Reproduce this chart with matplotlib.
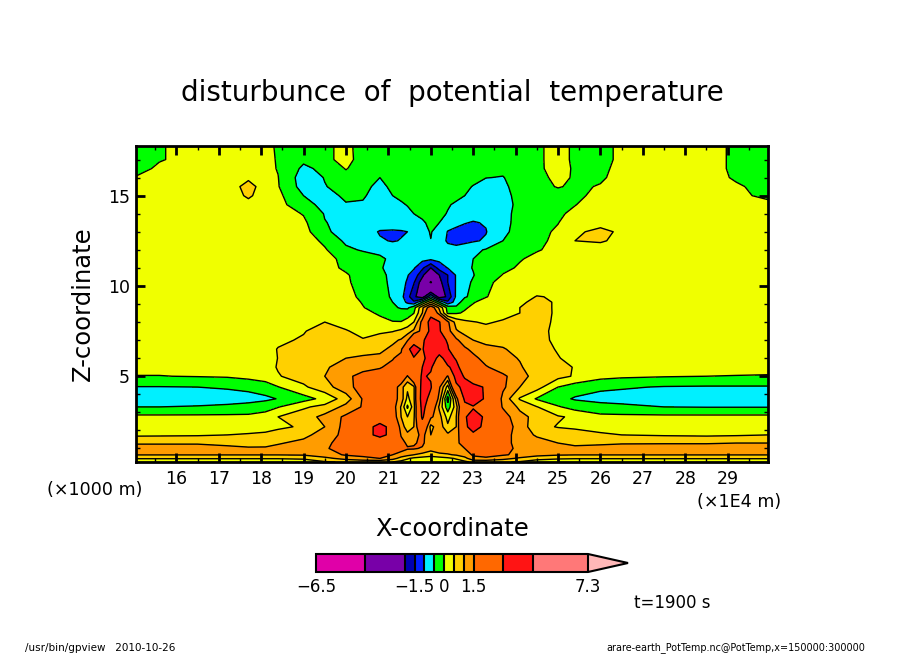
import numpy as np
import matplotlib
matplotlib.use("Agg")
import matplotlib.pyplot as plt
from matplotlib.colors import ListedColormap, BoundaryNorm

W, H = 904, 654

# contour levels and fill colours
levels = [-6.5, -4, -2, -1.5, -1, -0.5, 0, 0.5, 1, 1.5, 3, 4.5, 7.3]
colors = ['#e000a8', '#7800a8', '#0000b0', '#0020ff', '#00f0ff', '#00ff00',
          '#f0ff00', '#ffd000', '#ff9c00', '#ff6800', '#ff1414', '#ff7878']
over_color = '#ffb8b8'
bar_ticks = [-6.5, -1.5, 0, 1.5, 7.3]
bar_labels = ['\u22126.5', '\u22121.5', '0', '1.5', '7.3']

# x in 1E4 m, z in 1000 m
x = [15.05, 15.6, 16.5, 17.2, 17.7, 18.1, 18.4, 19, 19.5, 20, 20.4, 20.8, 21.1, 21.3, 21.45, 21.6, 21.8,
     22, 22.2, 22.4, 22.6, 22.8, 23, 23.3, 23.7, 24.1, 24.5, 25, 25.4, 26, 26.5, 27.5, 28.5, 29.2, 29.95]
z = [0.25, 0.45, 0.65, 1, 1.3, 1.75, 2.2, 2.75, 3.3, 3.75, 4.4, 5, 5.5, 6, 6.5, 7, 7.5, 8, 8.5, 8.8, 9.1, 9.4,
     10.2, 10.6, 11, 11.5, 12, 12.5, 13, 13.5, 14, 14.5, 15, 15.5, 16, 16.5, 17, 17.75]

# disturbance of potential temperature, one row per z
theta = [
 [.3,.3,.3,.3,.3,.3,.3,.32,.45,.55,.6,.6,.5,.35,.3,.25,.22,.2,.22,.25,.3,.4,.6,.6,.55,.45,.35,.3,.3,.3,.3,.3,.3,.3,.3],
 [.52,.52,.52,.52,.52,.52,.52,.55,.85,1.2,1.4,1.5,1.2,.8,.55,.4,.3,.25,.3,.4,.55,.8,1.4,1.45,1.2,.9,.6,.54,.52,.52,.52,.52,.52,.52,.52],
 [1.02,1.02,1.02,1.02,1.02,1.02,1.02,1.05,1.3,1.55,1.6,1.65,1.5,1.3,1.15,1,.85,.7,.85,.95,1.05,1.3,1.55,1.6,1.55,1.4,1.2,1.05,1.02,1.02,1.02,1.02,1.02,1.02,1.02],
 [1.2,1.2,1.2,1.1,1.05,1.05,1.15,1.3,1.45,1.7,1.8,1.95,1.9,1.7,1.55,1.55,1.45,1.2,1.4,1.3,1.35,1.5,1.75,1.85,1.65,1.4,1.3,1.15,1.05,1.1,1.15,1.2,1.2,1.2,1.2],
 [.95,.95,.95,.9,.85,.87,.95,1.15,1.4,1.7,1.8,2.2,2.1,1.7,1.4,1.45,1.6,1.15,1.35,1.3,1.4,1.7,2,2,1.7,1.3,1.15,1,.95,.95,.97,.97,.97,1,1],
 [.42,.43,.45,.5,.55,.6,.65,.85,1.25,1.65,2.55,3.3,2.7,1.45,1.1,1.2,1.7,1,1.4,1.1,1.2,2.2,2.85,2.3,1.8,1.2,.95,.8,.7,.58,.5,.45,.42,.45,.5],
 [.2,.2,.2,.2,.25,.3,.43,.55,1,1.7,2.55,3.3,2.7,1.2,.8,1,2.4,.85,1.3,.6,1,2.85,3.3,2.8,1.8,1.3,.65,.47,.42,.3,.25,.2,.2,.2,.2],
 [.12,.12,.12,.12,.12,.2,.5,.75,1.15,1.6,1.9,2.4,1.9,1,.5,.9,3.2,1.6,1.2,.3,1,2.9,3.4,2.85,1.75,1.15,.85,.55,.42,.12,.12,.12,.12,.12,.12],
 [-.5,-.5,-.47,-.42,-.35,-.2,-.03,.43,.65,1.15,1.55,2.2,1.8,.95,-.1,.8,3.4,2.2,.9,-.3,.8,2.7,2.9,2.4,1.45,.9,.52,.05,-.2,-.3,-.38,-.5,-.52,-.52,-.52],
 [-.7,-.7,-.7,-.68,-.65,-.6,-.48,-.2,.15,.75,1.55,2.1,1.75,1.3,.35,.9,3.6,2.6,1.3,-.7,1.2,3.2,3.8,2.8,1.35,.45,-.05,-.35,-.55,-.68,-.7,-.72,-.72,-.72,-.72],
 [-.52,-.52,-.5,-.46,-.4,-.25,-.02,.42,.8,1.3,1.75,2,1.9,1.2,.6,.9,3.5,3.1,1.6,.3,2.7,3.4,3.3,2.9,1.6,1,.7,0,-.25,-.4,-.45,-.53,-.55,-.55,-.55],
 [-.01,-.01,.02,.05,.15,.25,.47,.7,1,1.4,1.65,1.8,2,2.2,1.45,2.4,3.1,2.9,2.1,1.45,3.5,2.9,2.3,1.9,1.6,1.2,.8,.65,.45,.15,.08,.03,0,-.01,-.02],
 [.1,.1,.1,.12,.2,.35,.53,.75,.97,1.1,1.35,1.45,1.7,2,2.2,2.4,3,3.1,2.4,2.9,3.3,2.4,2,1.55,1.25,1.05,.75,.6,.48,.2,.12,.1,.1,.1,.1],
 [.2,.2,.2,.25,.25,.3,.51,.7,.8,1,1.05,1.1,1.45,1.75,2,2.95,2.7,3.6,2.7,3.4,2.9,1.95,1.65,1.3,1.15,.97,.7,.52,.38,.25,.2,.2,.2,.2,.2],
 [.25,.25,.25,.25,.3,.35,.52,.65,.7,.8,.88,.9,1.1,1.35,2.8,3.4,2.9,3.9,3.5,3.1,2.2,1.6,1.35,1.1,1.05,.8,.65,.47,.3,.25,.25,.25,.25,.25,.25],
 [.28,.28,.28,.28,.3,.32,.42,.55,.65,.62,.52,.7,.9,1.05,1.4,2.6,2.7,4,3.4,2.9,1.6,1.2,1,.9,.8,.7,.62,.42,.3,.28,.28,.28,.28,.28,.28],
 [.28,.28,.28,.28,.28,.3,.35,.47,.7,.52,.42,.42,.47,.6,.8,1.1,1.7,3.4,3.2,1.7,1.05,.85,.7,.65,.6,.6,.6,.42,.3,.28,.28,.28,.28,.28,.28],
 [.28,.28,.28,.28,.28,.3,.32,.35,.5,.4,.3,.1,.02,.02,.15,.5,1.7,3.6,3.1,1.6,.8,.6,.52,.45,.55,.65,.65,.42,.3,.28,.28,.28,.28,.28,.28],
 [.28,.28,.28,.28,.28,.3,.3,.32,.35,.3,.1,-.05,-.2,-.3,-.2,-.02,1,2.5,1.2,-.1,-.05,.05,.15,.25,.35,.5,.65,.44,.3,.28,.28,.28,.28,.28,.28],
 [.28,.28,.28,.28,.28,.3,.3,.3,.28,.22,.02,-.2,-.42,-.55,-.6,-.2,.9,1.9,.9,-.2,-.4,-.05,.08,.2,.32,.5,.62,.45,.3,.28,.28,.28,.28,.28,.28],
 [.28,.28,.28,.28,.28,.28,.28,.28,.25,.2,-.03,-.3,-.5,-.75,-1.1,-1.4,-.5,.5,-.5,-1.4,-.75,-.25,-.03,.15,.28,.42,.62,.45,.3,.28,.28,.28,.28,.28,.28],
 [.28,.28,.28,.28,.28,.28,.28,.28,.25,.15,-.1,-.35,-.55,-.85,-1.3,-1.9,-2.3,-1,-2.3,-1.9,-.9,-.55,-.38,-.02,.18,.32,.52,.46,.3,.28,.28,.28,.28,.28,.28],
 [.28,.28,.28,.28,.28,.28,.28,.28,.2,.08,-.2,-.42,-.56,-.85,-1.05,-1.45,-2.3,-4.15,-2.2,-1.5,-.95,-.62,-.45,-.08,.1,.15,.2,.25,.3,.3,.3,.3,.3,.3,.3],
 [.28,.28,.28,.28,.28,.28,.28,.28,.15,.03,-.12,-.4,-.6,-.8,-.97,-1.2,-1.85,-2.8,-2,-1.5,-.95,-.7,-.52,-.28,.02,.1,.15,.2,.25,.3,.3,.3,.3,.3,.3],
 [.28,.28,.28,.28,.28,.28,.28,.28,.1,-.05,-.2,-.47,-.6,-.75,-.85,-.95,-1.4,-2,-1.3,-.98,-.8,-.6,-.48,-.33,-.1,.05,.15,.2,.25,.3,.3,.3,.3,.25,.15],
 [.28,.28,.28,.28,.28,.28,.28,.28,.2,-.17,-.25,-.42,-.6,-.7,-.75,-.8,-.85,-.9,-.85,-.8,-.75,-.65,-.5,-.35,-.18,-.03,.1,.15,.2,.25,.3,.3,.3,.25,.15],
 [.3,.3,.3,.3,.3,.3,.3,.3,.05,-.4,-.55,-.62,-.75,-.8,-.8,-.75,-.7,-.65,-.72,-.8,-.85,-.78,-.62,-.46,-.3,-.15,-.03,.1,.2,.3,.3,.3,.3,.25,.15],
 [.3,.3,.3,.3,.3,.3,.3,.25,-.1,-.6,-.72,-.95,-1.03,-.98,-.9,-.75,-.65,-.51,-.72,-1.08,-1.15,-1.1,-1.05,-.95,-.5,-.25,-.08,.08,.5,.55,.38,.3,.3,.25,.15],
 [.3,.3,.3,.3,.3,.3,.3,.2,-.43,-.66,-.75,-1.04,-1.05,-1.04,-1,-.8,-.65,-.47,-.7,-1.02,-1.1,-1.15,-1.15,-1.02,-.62,-.3,-.1,.05,.42,.62,.42,.3,.3,.25,.15],
 [.28,.28,.28,.28,.28,.28,.28,.1,-.48,-.65,-.7,-.75,-.8,-.75,-.7,-.62,-.55,-.42,-.5,-.8,-.9,-.98,-1.03,-.97,-.68,-.3,-.12,-.01,.2,.35,.3,.3,.3,.25,.15],
 [.25,.25,.25,.25,.25,.25,.25,-.03,-.53,-.6,-.62,-.65,-.65,-.62,-.6,-.5,-.42,-.38,-.42,-.52,-.65,-.75,-.85,-.92,-.7,-.3,-.18,-.05,.07,.2,.25,.25,.25,.2,.1],
 [.2,.2,.2,.2,.3,.2,.2,-.38,-.6,-.52,-.53,-.6,-.6,-.55,-.48,-.42,-.38,-.35,-.4,-.47,-.55,-.65,-.75,-.85,-.8,-.3,-.15,-.1,-.01,.15,.2,.2,.2,.15,.05],
 [.15,.15,.15,.15,.6,.2,.12,-.5,-.6,-.45,-.47,-.62,-.5,-.42,-.38,-.35,-.35,-.32,-.35,-.38,-.42,-.5,-.58,-.75,-.7,-.3,-.2,-.12,-.06,.08,.15,.15,.15,.04,-.04],
 [.1,.1,.1,.2,.7,.25,.03,-.7,-.52,-.35,-.4,-.6,-.42,-.35,-.3,-.3,-.3,-.3,-.3,-.3,-.32,-.42,-.52,-.7,-.6,-.3,-.1,.02,-.05,.02,.1,.1,.1,.03,-.08],
 [.02,.1,.1,.1,.4,.1,.01,-.75,-.48,-.2,-.3,-.5,-.38,-.3,-.3,-.3,-.3,-.3,-.3,-.3,-.3,-.32,-.38,-.49,-.52,-.3,-.15,.12,-.05,-.04,.1,.12,.1,-.03,-.15],
 [-.1,.05,.1,.1,.1,.1,-.02,-.6,-.38,.03,-.25,-.35,-.3,-.3,-.3,-.3,-.3,-.3,-.3,-.3,-.3,-.32,-.35,-.38,-.4,-.2,-.08,.15,-.05,-.08,.1,.15,.1,-.05,-.15],
 [-.2,-.02,.1,.1,.1,.1,-.03,-.4,-.15,.2,-.25,-.3,-.3,-.3,-.3,-.3,-.3,-.3,-.3,-.3,-.3,-.3,-.3,-.3,-.25,-.2,-.1,.2,-.1,-.15,.1,.15,.2,-.1,-.2],
 [-.2,-.02,.1,.1,.1,.1,-.05,-.2,-.15,.2,-.3,-.3,-.3,-.3,-.3,-.3,-.3,-.3,-.3,-.3,-.3,-.3,-.3,-.3,-.25,-.2,-.1,.2,-.1,-.15,.1,.15,.2,-.1,-.2],
]
theta = np.array(theta)

x_ticks = list(range(16, 30))
z_ticks = [5, 10, 15]


def fx(px):
    return px / W


def fy(py):
    return 1 - py / H


fig = plt.figure(figsize=(W / 100, H / 100), dpi=100)
ax = fig.add_axes([fx(136), fy(462), fx(768) - fx(136), fy(146) - fy(462)])

cmap = ListedColormap(colors)
cmap.set_over(over_color)
norm = BoundaryNorm(levels, cmap.N)

cf = ax.contourf(x, z, theta, levels=levels, cmap=cmap, norm=norm, extend='max')
ax.contour(x, z, theta, levels=levels, colors='k', linewidths=1.0, linestyles='solid')

ax.set_xlim(15.05, 29.95)
ax.set_ylim(0.25, 17.75)
ax.set_xticks(x_ticks)
ax.set_yticks(z_ticks)
ax.set_xticks(np.arange(15.5, 30, 1), minor=True)
ax.set_yticks(np.arange(1, 18, 1), minor=True)
ax.tick_params(which='major', direction='in', top=True, right=True, length=6.5, width=2, labelsize=12.5)
ax.tick_params(which='minor', direction='in', top=True, right=True, length=3, width=1)
ax.tick_params(axis='x', which='major', pad=5.5)
ax.tick_params(axis='y', which='major', pad=4.5)
for s in ax.spines.values():
    s.set_linewidth(2)

# colour bar, the axes holds the bar and its tip
cax = fig.add_axes([fx(316), fy(572), fx(628) - fx(316), fy(554) - fy(572)])
cb = fig.colorbar(cf, cax=cax, orientation='horizontal', extend='max', extendfrac=0.147,
                  spacing='proportional', drawedges=True)
cb.set_ticks(bar_ticks)
cb.set_ticklabels(bar_labels)
cb.ax.minorticks_off()
cb.ax.tick_params(length=0, labelsize=12, pad=4)
cb.outline.set_linewidth(1.5)
cb.dividers.set_linewidth(1.5)

# text
fig.text(fx(452), fy(93), 'disturbunce  of  potential  temperature', fontsize=20, ha='center', va='center')
fig.text(fx(452), fy(529), 'X-coordinate', fontsize=17.5, ha='center', va='center')
fig.text(fx(83), fy(304), 'Z-coordinate', fontsize=17.5, rotation=90, ha='center', va='center')
fig.text(fx(47), fy(490), '(\u00d71000 m)', fontsize=12.6, ha='left', va='center')
fig.text(fx(697), fy(502), '(\u00d71E4 m)', fontsize=12.6, ha='left', va='center')
fig.text(fx(634), fy(603), 't=1900 s', fontsize=12, ha='left', va='center')
fig.text(fx(25), fy(648), '/usr/bin/gpview   2010-10-26', fontsize=7.5, ha='left', va='center')
fig.text(fx(606), fy(648), 'arare-earth_PotTemp.nc@PotTemp,x=150000:300000', fontsize=6.9, ha='left', va='center')

fig.savefig('out.png', dpi=100)
